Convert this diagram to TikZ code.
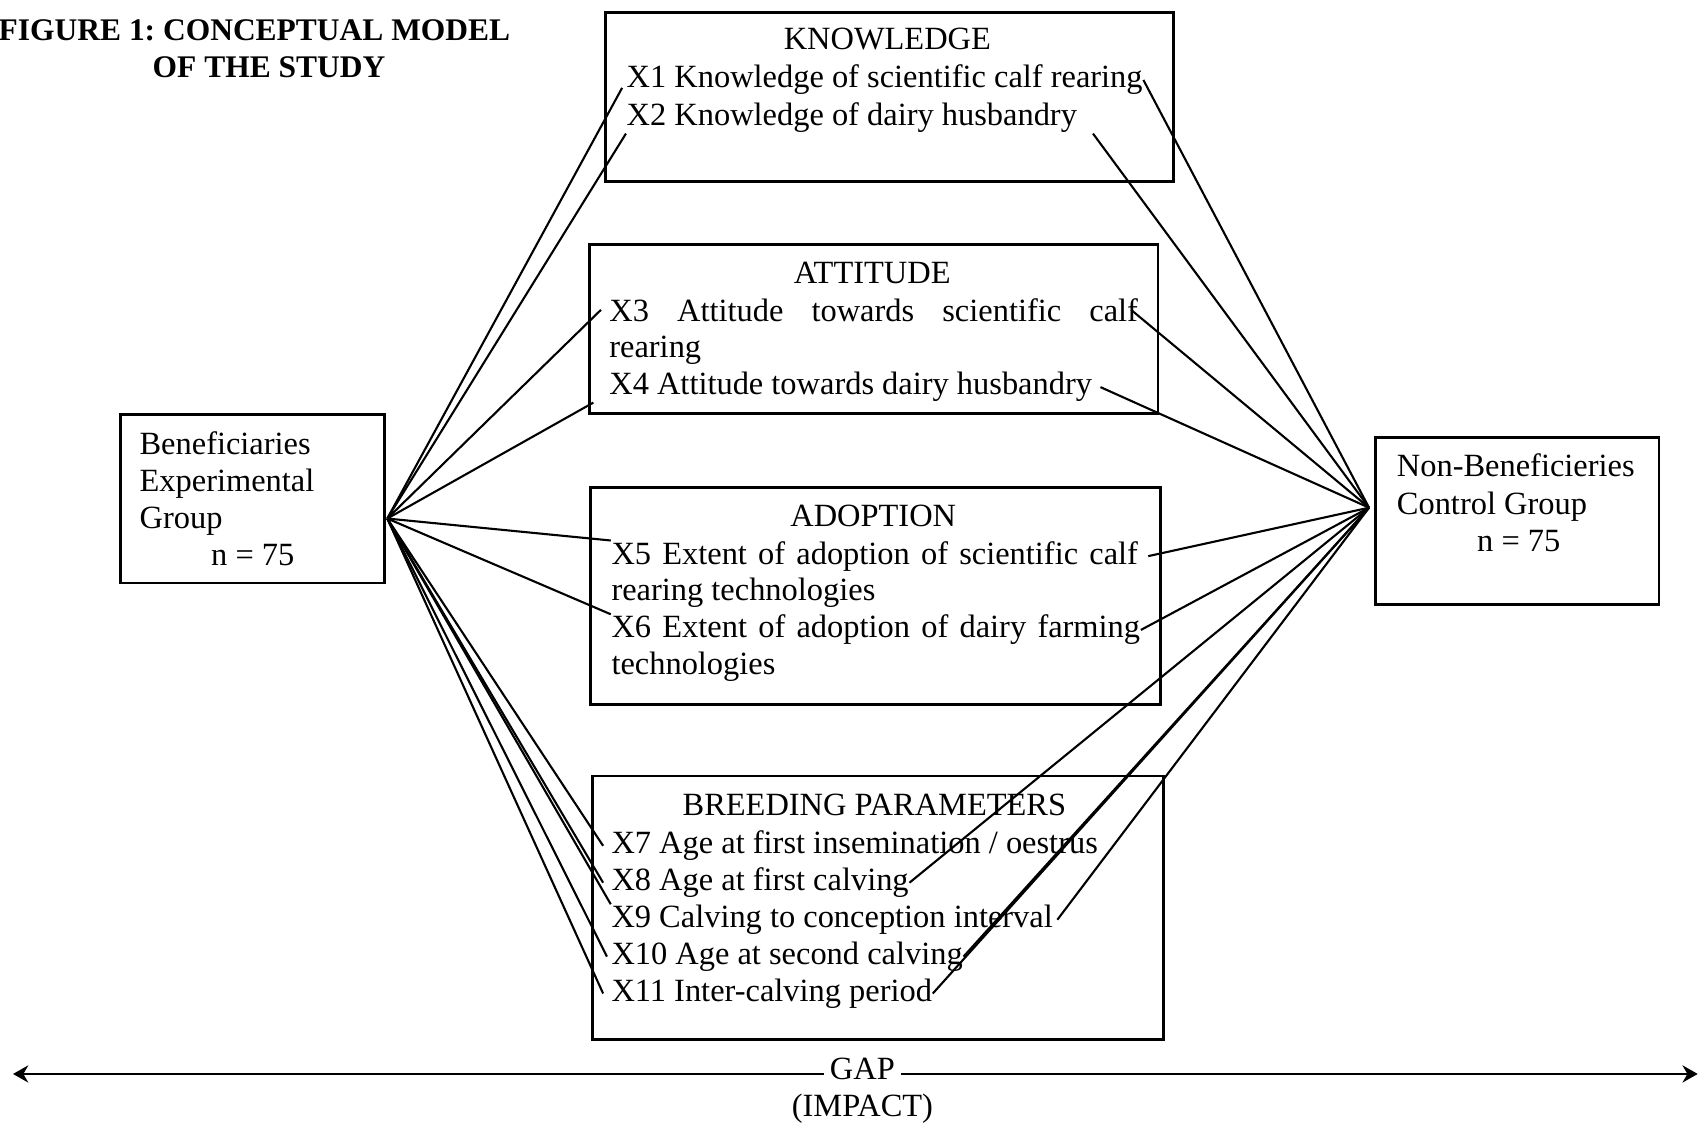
\documentclass[tikz,border=0pt]{standalone}
\usepackage{fontspec}
\setmainfont{Liberation Serif}
\usetikzlibrary{positioning, arrows.meta}
\frenchspacing

\begin{document}
\begin{tikzpicture}[
    x=0.01cm, y=-0.01cm,
    every node/.style={font=\fontsize{8.5}{9.8}\selectfont, inner sep=0pt},
    box/.style={draw, line width=0.7pt, anchor=north west},
    head/.style={anchor=base},
    item/.style={anchor=base west},
    ttl/.style={anchor=base, font=\fontsize{8.25}{9.8}\selectfont\bfseries},
    link/.style={line width=0.55pt},
    gapline/.style={line width=0.6pt, -{Stealth[length=4pt,width=4.5pt]}}
  ]
  \useasboundingbox (0,0) rectangle (1568,1037);

  % title
  \node[ttl, anchor=base east] (ttlA) at (471,37) {FIGURE 1: CONCEPTUAL MODEL};
  \node[ttl] (ttlB) at (248,71) {OF THE STUDY};

  % boxes
  \node[box, minimum width=5.23cm, minimum height=1.56cm] (know) at (557,10) {};
  \node[box, minimum width=5.24cm, minimum height=1.56cm] (att) at (542,224) {};
  \node[box, minimum width=5.25cm, minimum height=2.00cm] (ado) at (543,448) {};
  \node[box, minimum width=5.26cm, minimum height=2.43cm] (bre) at (545,714) {};
  \node[box, minimum width=2.43cm, minimum height=1.55cm] (ben) at (110,381) {};
  \node[box, minimum width=2.61cm, minimum height=1.54cm] (non) at (1267,402) {};

  % groups
  \node[item] (ben1) at (128,419) {Beneficiaries};
  \node[item] (ben2) at (128,453) {Experimental};
  \node[item] (ben3) at (128,487) {Group};
  \node[item] (ben4) at (194,521) {n = 75};
  \node[item] (non1) at (1287,439) {Non-Beneficieries};
  \node[item] (non2) at (1287,474) {Control Group};
  \node[item] (non3) at (1361,508) {n = 75};

  % knowledge
  \node[head] (knowT) at (818,46) {KNOWLEDGE};
  \node[item] (x1) at (577,81) {X1 Knowledge of scientific calf rearing};
  \node[item] (x2) at (577,116) {X2 Knowledge of dairy husbandry};

  % attitude
  \node[head] (attT) at (804,261) {ATTITUDE};
  \node[item] (x3) at (561,296) {\makebox[4.87cm][s]{X3 Attitude towards scientific calf}};
  \node[item] (x3b) at (561,330) {rearing};
  \node[item] (x4) at (561,364) {X4 Attitude towards dairy husbandry};

  % adoption
  \node[head] (adoT) at (805,485) {ADOPTION};
  \node[item] (x5) at (563,520) {\makebox[4.85cm][s]{X5 Extent of adoption of scientific calf}};
  \node[item] (x5b) at (563,554) {rearing technologies};
  \node[item] (x6) at (563,588) {\makebox[4.87cm][s]{X6 Extent of adoption of dairy farming}};
  \node[item] (x6b) at (563,622) {technologies};

  % breeding parameters
  \node[head] (breT) at (806,752) {BREEDING PARAMETERS};
  \node[item] (x7) at (563,787) {X7 Age at first insemination / oestrus};
  \node[item] (x8) at (563,821) {X8 Age at first calving};
  \node[item] (x9) at (563,855) {X9 Calving to conception interval};
  \node[item] (x10) at (563,889) {X10 Age at second calving};
  \node[item] (x11) at (563,923) {X11 Inter-calving period};

  % hubs
  \coordinate (lhub) at (357,478);
  \coordinate (rhub) at (1262,468);

  % experimental group links
  \draw[link] (lhub) -- ([xshift=-1pt]x1.base west);
  \draw[link] (lhub) -- (x2.south west);
  \draw[link] (lhub) -- ([xshift=-2pt]x3.west);
  \draw[link] (lhub) -- ([xshift=-4pt]x4.south west);
  \draw[link] (lhub) -- (x5.north west);
  \draw[link] (lhub) -- (x6.north west);
  \draw[link] (lhub) -- ([xshift=-2pt]x7.west);
  \draw[link] (lhub) -- ([xshift=-2pt]x8.west);
  \draw[link] (lhub) -- (x9.north west);
  \draw[link] (lhub) -- ([xshift=-1pt]x10.west);
  \draw[link] (lhub) -- ([xshift=-2pt]x11.west);

  % control group links
  \draw[link] (rhub) -- (x1.east);
  \draw[link] (rhub) -- ([xshift=4pt]x2.south east);
  \draw[link] (rhub) -- ([xshift=-2pt]x3.east);
  \draw[link] (rhub) -- ([xshift=2pt]x4.east);
  \draw[link] (rhub) -- ([xshift=2.5pt]x5.east);
  \draw[link] (rhub) -- (x6.east);
  \draw[link] (rhub) -- (x8.east);
  \draw[link] (rhub) -- ([xshift=1pt]x9.east);
  \draw[link] (rhub) -- (x10.east);
  \draw[link] (rhub) -- (x11.east);

  % gap
  \node[head, inner sep=1.5pt] (gap) at (795,995) {GAP};
  \node[head] (impact) at (795,1029) {(IMPACT)};
  \coordinate (lend) at (12,990);
  \coordinate (rend) at (1565,990);
  \draw[gapline] (gap.west |- lend) -- (lend);
  \draw[gapline] (gap.east |- rend) -- (rend);
\end{tikzpicture}
\end{document}
